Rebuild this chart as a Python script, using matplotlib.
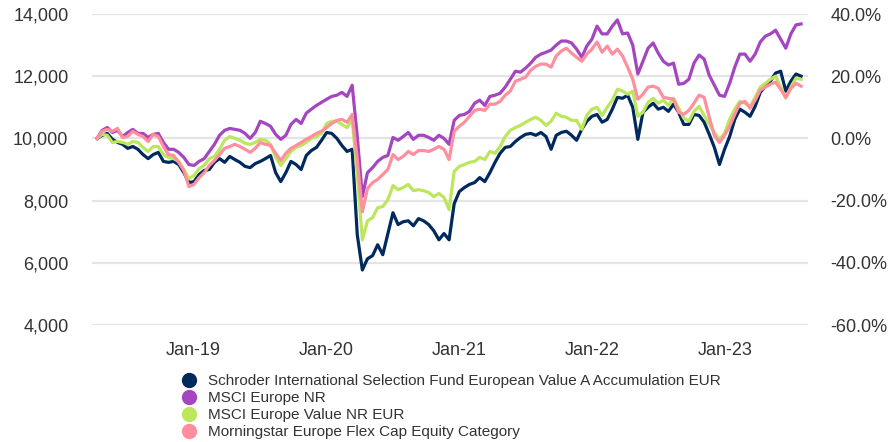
import numpy as np
import pandas as pd
import matplotlib
matplotlib.use("Agg")
import matplotlib.pyplot as plt
import matplotlib.dates as mdates
from matplotlib.lines import Line2D
from matplotlib.ticker import FuncFormatter

plt.rcParams['font.family'] = ['Liberation Sans', 'DejaVu Sans']

# Data ------------------------------------------------------------------------
# Growth of 10,000 (fortnightly readings, Apr 2018 - Jul 2023)
startDate = "2018-04-13"

fund = [10000, 10100, 10160, 9970, 9870, 9810, 9680, 9740, 9650, 9480,
        9350, 9480, 9550, 9260, 9230, 9260, 9160, 8900, 8580, 8610,
        8840, 8970, 9000, 9230, 9350, 9230, 9420, 9320, 9230, 9100,
        9060, 9190, 9260, 9350, 9450, 8900, 8610, 8900, 9260, 9160,
        9000, 9450, 9610, 9710, 9940, 10190, 10160, 10000, 9770, 9580,
        9650, 6900, 5770, 6130, 6230, 6580, 6260, 6940, 7610, 7230,
        7320, 7350, 7190, 7420, 7350, 7230, 7030, 6740, 6940, 6740,
        7900, 8290, 8420, 8520, 8580, 8740, 8610, 8900, 9230, 9520,
        9710, 9740, 9900, 10030, 10130, 10160, 10100, 10190, 10060, 9650,
        10100, 10190, 10230, 10100, 9940, 10290, 10550, 10710, 10770, 10520,
        10610, 10940, 11320, 11290, 11390, 11000, 9970, 10840, 11000, 11130,
        10940, 11000, 10870, 11100, 10840, 10450, 10450, 10770, 10740, 10520,
        10130, 9710, 9160, 9650, 10060, 10610, 10940, 10840, 10710, 11030,
        11480, 11680, 11840, 12100, 12160, 11520, 11840, 12070, 12000]

msciEurope = [10000, 10260, 10350, 10190, 10260, 10060, 10190, 10290, 10160, 10160,
              10030, 10130, 10160, 9870, 9650, 9650, 9550, 9390, 9160, 9130,
              9260, 9350, 9580, 9810, 10100, 10260, 10320, 10290, 10260, 10160,
              10000, 10190, 10550, 10480, 10390, 10130, 9970, 10100, 10450, 10610,
              10480, 10810, 10940, 11060, 11160, 11260, 11350, 11390, 11480, 11350,
              11710, 10060, 8130, 8900, 9060, 9260, 9390, 9450, 10030, 9940,
              10060, 10190, 9970, 10100, 10100, 10030, 9940, 10100, 10000, 9810,
              10580, 10740, 10770, 10870, 11130, 11230, 11060, 11350, 11390, 11450,
              11650, 11900, 12160, 12130, 12260, 12420, 12610, 12710, 12770, 12840,
              13000, 13130, 13130, 13070, 12870, 12610, 12970, 13190, 13610, 13360,
              13360, 13610, 13810, 13360, 13390, 13000, 12070, 12480, 12900, 13070,
              12740, 12480, 12360, 12420, 11740, 11770, 11900, 12420, 12680, 12550,
              12030, 11710, 11390, 11350, 11770, 12290, 12710, 12710, 12480, 12710,
              13100, 13290, 13360, 13480, 13190, 12900, 13360, 13650, 13680]

msciValue = [10000, 10130, 10100, 9870, 9900, 9870, 9810, 9900, 9870, 9710,
             9580, 9740, 9740, 9480, 9390, 9350, 9260, 9000, 8710, 8810,
             9030, 9130, 9350, 9420, 9650, 9940, 10060, 10000, 9940, 9840,
             9810, 9870, 9970, 9940, 9810, 9390, 9130, 9350, 9580, 9710,
             9770, 9870, 10000, 10060, 10160, 10480, 10550, 10550, 10450, 10350,
             10610, 8840, 6740, 7350, 7450, 7770, 7810, 8030, 8480, 8350,
             8420, 8520, 8320, 8350, 8320, 8260, 8130, 8230, 8100, 7710,
             8940, 9100, 9160, 9230, 9260, 9390, 9320, 9580, 9520, 9740,
             10060, 10260, 10350, 10420, 10520, 10610, 10680, 10580, 10420, 10550,
             10810, 10710, 10680, 10580, 10580, 10290, 10740, 10940, 11000, 10740,
             11000, 11230, 11580, 11520, 11420, 11520, 10710, 10840, 11160, 11290,
             11130, 11230, 11060, 11290, 10970, 10650, 10550, 10870, 11030, 10740,
             10450, 10190, 9970, 10160, 10610, 10940, 11190, 11130, 11030, 11320,
             11650, 11770, 11900, 12000, 11650, 11290, 11650, 11940, 11900]

category = [10000, 10230, 10290, 10230, 10320, 10030, 10060, 10230, 10130, 10060,
            9900, 10130, 10060, 9740, 9480, 9450, 9230, 8970, 8450, 8520,
            8740, 8900, 9130, 9290, 9480, 9680, 9740, 9810, 9740, 9650,
            9550, 9680, 9870, 9810, 9770, 9520, 9290, 9520, 9680, 9770,
            9870, 9970, 10060, 10160, 10230, 10350, 10480, 10580, 10610, 10520,
            10770, 9320, 7640, 8390, 8580, 8680, 8840, 9000, 9480, 9320,
            9420, 9580, 9480, 9610, 9610, 9580, 9650, 9740, 9650, 9320,
            10230, 10390, 10520, 10710, 10900, 10940, 10900, 11100, 11100, 11190,
            11390, 11520, 11840, 11900, 11970, 12190, 12320, 12390, 12390, 12290,
            12650, 12810, 12900, 12740, 12610, 12480, 12710, 12870, 13100, 12770,
            12970, 12710, 12870, 12650, 12290, 11900, 11260, 11420, 11650, 11680,
            11610, 11320, 11290, 11260, 10840, 10770, 10900, 11130, 11390, 11320,
            10680, 10100, 9870, 10100, 10390, 10770, 11130, 11190, 10970, 11230,
            11550, 11650, 11740, 11810, 11580, 11320, 11610, 11770, 11680]

names = ["Schroder International Selection Fund European Value A Accumulation EUR",
         "MSCI Europe NR",
         "MSCI Europe Value NR EUR",
         "Morningstar Europe Flex Cap Equity Category"]
colors = ["#00295e", "#a446bf", "#bce65c", "#ff8e9e"]

dates = pd.date_range(startDate, periods=len(fund), freq="14D")
series = [fund, msciEurope, msciValue, category]

# Plot ------------------------------------------------------------------------
textColor = "#333333"
gridColor = "#e4e4e4"

fig = plt.figure(figsize=(8.93, 4.42), dpi=100)
ax = fig.add_axes([92/893, 1 - 325/442, 716/893, 311/442])

for vals, col in zip(series, colors):
    ax.plot(dates, vals, color=col, linewidth=2.3, solid_joinstyle="round")

ax.set_ylim(4000, 14000)
ax.set_yticks(np.arange(4000, 14001, 2000))
ax.yaxis.set_major_formatter(FuncFormatter(lambda v, p: "{:,.0f}".format(v)))
ax.set_xlim(pd.Timestamp("2018-03-30"), pd.Timestamp("2023-08-16"))
ax.set_xticks([pd.Timestamp("%d-01-01" % y) for y in range(2019, 2024)])
ax.xaxis.set_major_formatter(mdates.DateFormatter("%b-%y"))

ax.grid(axis="y", color=gridColor, linewidth=1.6)
ax.set_axisbelow(True)
for s in ax.spines.values():
    s.set_visible(False)
ax.tick_params(axis="both", length=0, labelsize=13, colors=textColor)
ax.tick_params(axis="y", pad=17)
ax.tick_params(axis="x", pad=12)

ax2 = ax.twinx()
ax2.set_ylim(-60, 40)
ax2.set_yticks(np.arange(-60, 41, 20))
ax2.yaxis.set_major_formatter(FuncFormatter(lambda v, p: "{:.1f}%".format(v)))
for s in ax2.spines.values():
    s.set_visible(False)
ax2.tick_params(axis="y", length=0, labelsize=13, colors=textColor, pad=16)

# Legend below the chart
handles = [Line2D([], [], linestyle="none", marker="o", markersize=10,
                  markerfacecolor=c, markeredgecolor=c) for c in colors]
fig.legend(handles, names, loc="upper left", bbox_to_anchor=(174/893, 1 - 374/442),
           frameon=False, fontsize=11, labelcolor=textColor,
           handletextpad=0.25, labelspacing=0.2, borderaxespad=0, borderpad=0)

fig.savefig("out.png", dpi=100)
